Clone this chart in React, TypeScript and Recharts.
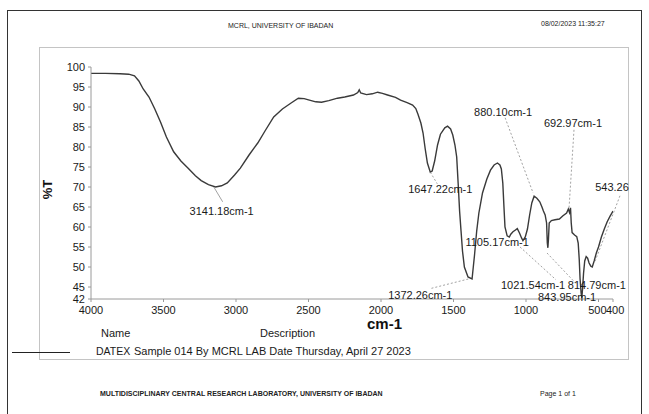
import React from 'react';
import {
  LineChart, Line, XAxis, YAxis, ReferenceLine, ReferenceDot,
} from 'recharts';

// wavenumber (cm-1) and %T
const wavenumbers = [
  4000, 3900, 3800, 3740, 3700, 3670, 3640, 3600, 3560, 3520, 3480, 3430, 3380, 3330, 3280, 3240,
  3190, 3141, 3100, 3060, 3010, 2970, 2910, 2850, 2800, 2740, 2680, 2620, 2570, 2530, 2500, 2450,
  2410, 2360, 2300, 2250, 2190, 2160, 2150, 2140, 2100, 2060, 2023, 1990, 1955, 1900, 1865, 1820,
  1782, 1760, 1745, 1725, 1710, 1695, 1680, 1660, 1647, 1630, 1610, 1590, 1560, 1541, 1520, 1505,
  1490, 1478, 1468, 1458, 1448, 1438, 1425, 1400, 1372, 1355, 1340, 1325, 1300, 1270, 1245, 1220,
  1197, 1180, 1170, 1160, 1152, 1145, 1130, 1115, 1105, 1090, 1075, 1060, 1045, 1030, 1021, 1005,
  990, 975, 960, 944, 925, 905, 890, 880, 868, 858, 853, 849, 845, 840, 825, 800,
  770, 745, 720, 708, 700, 693, 688, 682, 665, 650, 640, 633, 627, 620, 615, 610,
  603, 595, 585, 575, 565, 553, 543, 530, 515, 500, 480, 460, 440, 420, 400,
];
const transmittance = [
  98.4, 98.4, 98.3, 98.2, 97.8, 96.5, 94.5, 92.5, 89.5, 86.2, 82.5, 78.8, 76.5, 74.7, 72.8, 71.6,
  70.6, 70.0, 70.3, 71.0, 73.0, 74.7, 78.0, 81.0, 84.0, 87.5, 89.5, 91.0, 92.2, 92.1, 91.8, 91.3,
  91.2, 91.6, 92.2, 92.5, 93.0, 93.6, 94.3, 93.5, 93.1, 93.3, 93.7, 93.4, 93.0, 92.4, 91.7, 91.1,
  90.5, 89.6, 88.2, 86.0, 83.5, 79.5, 76.0, 73.7, 74.0, 76.5, 80.5, 83.2, 84.8, 85.2, 84.5, 83.0,
  80.5, 77.5, 71.0, 64.0, 59.0, 54.0, 50.0, 47.5, 47.0, 53.0, 59.0, 63.5, 68.5, 72.0, 74.2, 75.5,
  76.0, 75.5, 74.5, 71.0, 65.0, 60.0, 57.8, 57.5, 58.2, 58.8, 59.2, 59.6, 58.5, 57.2, 56.6, 57.5,
  59.5, 63.0, 66.0, 67.7, 67.2, 66.3, 65.0, 64.0, 63.0, 61.0, 56.0, 54.8, 57.0, 61.0, 61.6, 61.8,
  62.0, 62.8, 63.5, 64.5, 63.6, 64.8, 61.0, 58.6, 58.0, 57.6, 56.0, 52.0, 47.0, 43.5, 42.3, 44.5,
  48.5, 51.5, 52.6, 52.2, 51.0, 50.2, 50.0, 51.5, 53.5, 55.0, 57.5, 59.5, 61.3, 62.7, 64.0,
];
const xTicks = [4000, 3500, 3000, 2500, 2000, 1500, 1000, 500, 400];
const yTicks = [42, 45, 50, 55, 60, 65, 70, 75, 80, 85, 90, 95, 100];

// peak labels: text, label position, leader start/end (all in cm-1 / %T)
const peakLabels = ['3141.18cm-1', '1647.22cm-1', '1372.26cm-1', '1105.17cm-1', '880.10cm-1', '692.97cm-1', '543.26', '1021.54cm-1', '814.79cm-1', '843.95cm-1'];
const labelX = [3099, 1591, 1729, 1199, 1158, 676, 407, 951, 511, 717];
const labelY = [64, 69.5, 42.9, 56.2, 88.7, 86, 70, 45.5, 45.5, 42.6];
const leaderFrom = [[3153, 70], [1660, 73.7], [1398, 47], null, [1144, 87.3], [669, 84.3], [352, 67.8], [1041, 55], [855, 53.5], null];
const leaderTo = [[3092, 66.3], [1612, 70.8], [1660, 44.6], null, [951, 68.5], [703, 64.8], [525, 51.3], [793, 46.8], [648, 45.6], null];

const spectrum = wavenumbers.map((wn, i) => ({ wn, t: transmittance[i] }));

const font = '"Liberation Sans", Arial, sans-serif';
const small: React.CSSProperties = { position: 'absolute', fontFamily: font, fontSize: 7, color: '#222', whiteSpace: 'nowrap' };
const mid: React.CSSProperties = { position: 'absolute', fontFamily: font, fontSize: 11, color: '#1a1a1a', whiteSpace: 'nowrap' };

// 500 and 400 sit almost on top of each other, the scan prints them as "500400"
const XTick = (props: any) => {
  const { x, y, payload } = props;
  const v = payload.value;
  const anchor = v === 500 ? 'end' : v === 400 ? 'start' : 'middle';
  const dx = v === 500 ? 8 : v === 400 ? -7 : 0;
  return (
    <text x={x + dx} y={y + 10} textAnchor={anchor} fontSize={11} fill="#1a1a1a" fontFamily={font}>
      {v}
    </text>
  );
};

const YTick = (props: any) => {
  const { x, y, payload } = props;
  return (
    <text x={x - 1} y={y + 4} textAnchor="end" fontSize={11} fill="#1a1a1a" fontFamily={font}>
      {payload.value}
    </text>
  );
};

export default function App() {
  return (
    <div style={{ position: 'absolute', left: 0, top: 0, width: 649, height: 414, background: '#fff', overflow: 'hidden' }}>
      {/* page border and chart frame */}
      <div style={{ position: 'absolute', left: 7, top: 10, width: 633, height: 420, border: '1px solid #333', borderBottom: 'none' }} />
      <div style={{ position: 'absolute', left: 39, top: 47, width: 588, height: 311, border: '1px solid #c4c4c4' }} />

      <div style={{ ...small, left: 228, top: 22 }}>MCRL, UNIVERSITY OF IBADAN</div>
      <div style={{ ...small, left: 541, top: 20 }}>08/02/2023 11:35:27</div>

      <div style={{ position: 'absolute', left: 0, top: 0 }}>
        <LineChart width={649} height={414} data={spectrum} margin={{ top: 67, right: 36, left: 51, bottom: 95 }}>
          <XAxis
            dataKey="wn"
            type="number"
            domain={[400, 4000]}
            reversed
            ticks={xTicks}
            interval={0}
            allowDataOverflow
            stroke="#9a9a9a"
            tickSize={3}
            height={20}
            tick={<XTick />}
          />
          <YAxis
            type="number"
            domain={[42, 100]}
            ticks={yTicks}
            interval={0}
            allowDataOverflow
            stroke="#9a9a9a"
            tickSize={3}
            width={40}
            tick={<YTick />}
          />
          <Line
            type="linear"
            dataKey="t"
            stroke="#3a3a3a"
            strokeWidth={1.4}
            dot={false}
            isAnimationActive={false}
          />
          {peakLabels.map((_, i) => {
            const a = leaderFrom[i];
            const b = leaderTo[i];
            if (!a || !b) return null;
            return (
              <ReferenceLine
                key={`lead-${i}`}
                segment={[{ x: a[0], y: a[1] }, { x: b[0], y: b[1] }]}
                stroke="#8a8a8a"
                strokeWidth={0.8}
                strokeDasharray={i === 0 ? undefined : '2 2'}
                ifOverflow="visible"
              />
            );
          })}
          {peakLabels.map((txt, i) => (
            <ReferenceDot
              key={`lbl-${i}`}
              x={labelX[i]}
              y={labelY[i]}
              r={0}
              fill="none"
              stroke="none"
              ifOverflow="visible"
              label={{ value: txt, position: 'center', fontSize: 11, fill: '#1a1a1a', fontFamily: font }}
            />
          ))}
        </LineChart>
      </div>

      <div style={{ position: 'absolute', left: 38, top: 182, transform: 'rotate(-90deg)', transformOrigin: 'center', fontFamily: font, fontSize: 13, fontWeight: 'bold', color: '#111' }}>%T</div>
      <div style={{ position: 'absolute', left: 367, top: 317, lineHeight: '14px', fontFamily: font, fontSize: 15, fontWeight: 'bold', color: '#111' }}>cm-1</div>

      <div style={{ ...mid, left: 101, top: 327 }}>Name</div>
      <div style={{ ...mid, left: 260, top: 327 }}>Description</div>
      <div style={{ position: 'absolute', left: 12, top: 352, width: 58, borderTop: '1px solid #222' }} />
      <div style={{ ...mid, left: 96, top: 345, fontSize: 10.5 }}>DATEX</div>
      <div style={{ ...mid, left: 134, top: 345 }}>Sample 014 By MCRL LAB Date Thursday, April 27 2023</div>

      <div style={{ ...small, left: 100, top: 390, fontWeight: 'bold' }}>MULTIDISCIPLINARY CENTRAL RESEARCH LABORATORY, UNIVERSITY OF IBADAN</div>
      <div style={{ ...small, left: 540, top: 390 }}>Page 1 of 1</div>
    </div>
  );
}
